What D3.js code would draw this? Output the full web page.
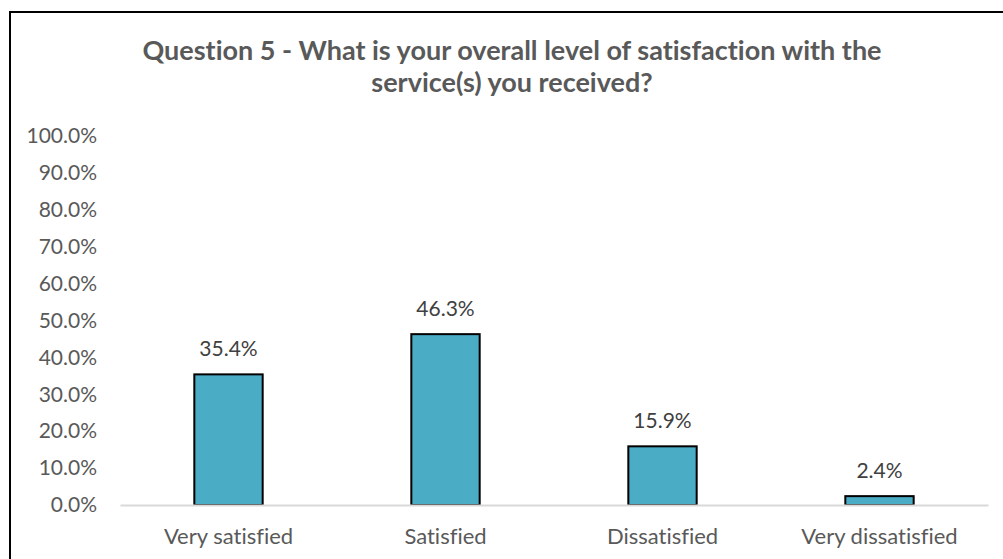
<!DOCTYPE html>
<html>
<head>
<meta charset="utf-8">
<script src="https://cdn.jsdelivr.net/npm/d3@7/dist/d3.min.js"></script>
<style>
  html, body { margin: 0; padding: 0; background: #fff; }
  svg { display: block; }
  text { font-family: Lato, "Open Sans", sans-serif; font-variant-ligatures: none; }
</style>
</head>
<body>
<svg id="chart" width="1003" height="559"></svg>
<script>
// Survey results: share of respondents per satisfaction level
const categories = ["Very satisfied", "Satisfied", "Dissatisfied", "Very dissatisfied"];
const values = [0.354, 0.463, 0.159, 0.024];
const yTicks = [0, 0.1, 0.2, 0.3, 0.4, 0.5, 0.6, 0.7, 0.8, 0.9, 1.0];
const titleLines = [
  "Question 5 - What is your overall level of satisfaction with the",
  "service(s) you received?"
];

const svg = d3.select("#chart");
const W = 1003, H = 559;
const FONT = "Lato, 'Open Sans', sans-serif";

// chart frame (runs past the right and bottom edges)
svg.append("rect")
  .attr("x", 10).attr("y", 12)
  .attr("width", W + 20).attr("height", H + 20)
  .attr("fill", "#fff").attr("stroke", "#000").attr("stroke-width", 2);

const plot = { left: 120, right: 988, top: 136, bottom: 505 };

const x = d3.scaleBand()
  .domain(categories)
  .range([plot.left, plot.right])
  .paddingInner(0).paddingOuter(0);

const y = d3.scaleLinear()
  .domain([0, 1])
  .range([plot.bottom, plot.top]);

const barW = x.bandwidth() * 0.315;

// title
svg.append("g").selectAll("text")
  .data(titleLines)
  .join("text")
  .attr("x", 512)
  .attr("y", (d, i) => 60 + i * 32)
  .attr("text-anchor", "middle")
  .attr("font-size", 27)
  .attr("font-weight", "bold")
  .attr("fill", "#595959")
  .text(d => d);

// y axis labels
const yAxis = d3.axisLeft(y)
  .tickValues(yTicks)
  .tickFormat(d3.format(".1%"))
  .tickSize(0)
  .tickPadding(23);
const gy = svg.append("g")
  .attr("transform", `translate(${plot.left},0)`)
  .call(yAxis);
gy.select(".domain").remove();
gy.selectAll("text")
  .attr("font-size", 21)
  .attr("fill", "#595959")
  .attr("font-family", FONT);

// bars
svg.append("g").selectAll("rect")
  .data(values)
  .join("rect")
  .attr("x", (d, i) => x(categories[i]) + (x.bandwidth() - barW) / 2)
  .attr("y", d => y(d))
  .attr("width", barW)
  .attr("height", d => y(0) - y(d))
  .attr("fill", "#4BACC6")
  .attr("stroke", "#000")
  .attr("stroke-width", 2);

// x axis
const xAxis = d3.axisBottom(x).tickSize(0).tickPadding(23);
const gx = svg.append("g")
  .attr("transform", `translate(0,${plot.bottom})`)
  .call(xAxis);
gx.select(".domain")
  .attr("stroke", "#d9d9d9")
  .attr("stroke-width", 2);
gx.selectAll("text")
  .attr("font-size", 22)
  .attr("fill", "#595959")
  .attr("font-family", FONT);

// value labels
svg.append("g").selectAll("text")
  .data(values)
  .join("text")
  .attr("x", (d, i) => x(categories[i]) + x.bandwidth() / 2)
  .attr("y", d => y(d) - 18)
  .attr("text-anchor", "middle")
  .attr("font-size", 21)
  .attr("fill", "#404040")
  .text(d => d3.format(".1%")(d));
</script>
</body>
</html>
